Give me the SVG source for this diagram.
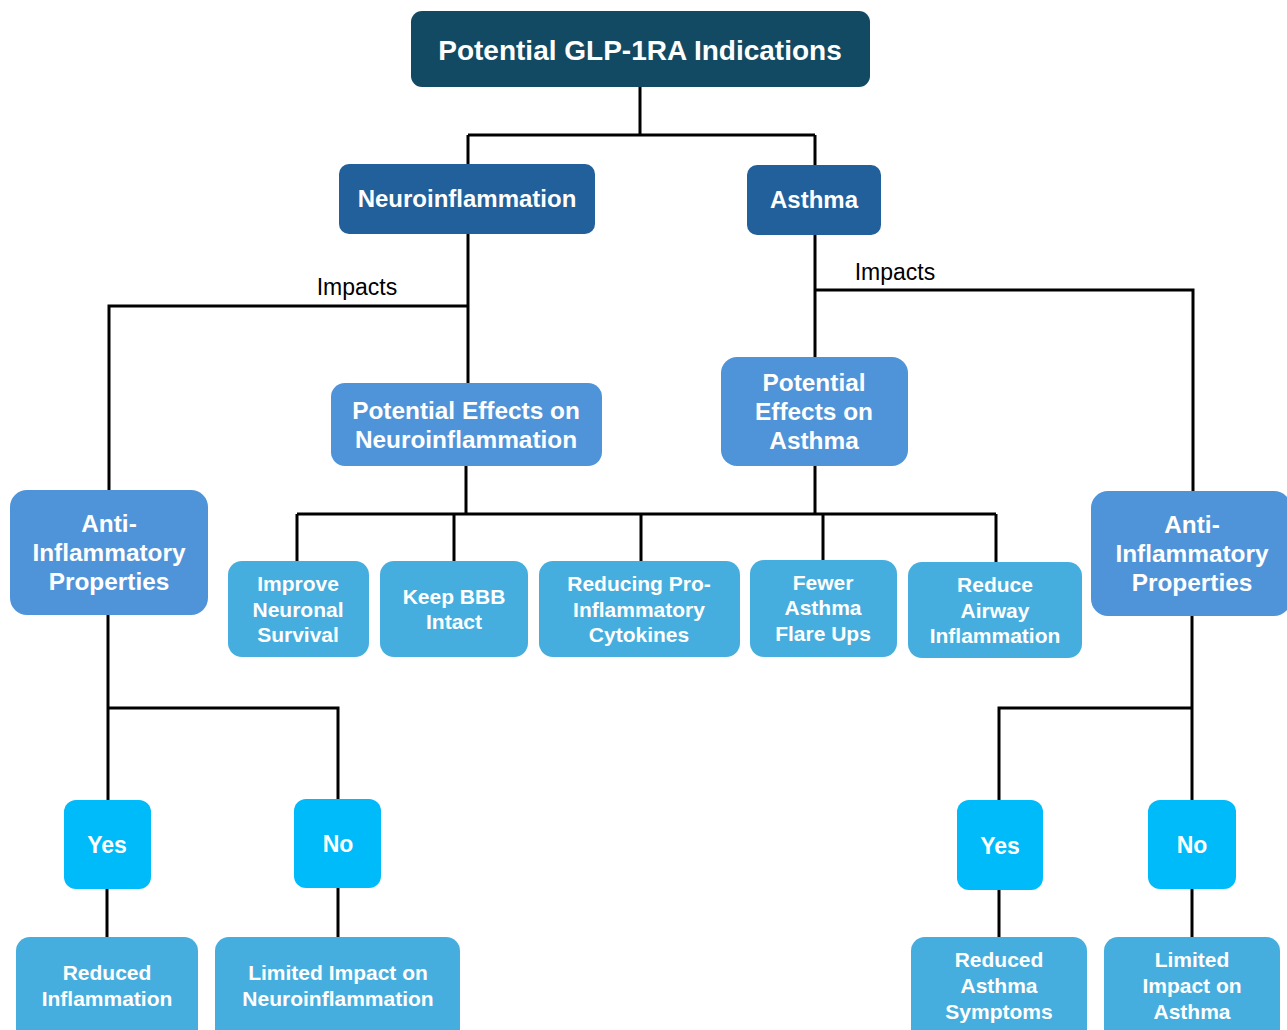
<svg xmlns="http://www.w3.org/2000/svg" width="1287" height="1030" viewBox="0 0 1287 1030">
<style>
.t{font-family:"Liberation Sans",Arial,sans-serif;font-weight:bold;fill:#fff;text-anchor:middle}
.c{fill:none;stroke:#000;stroke-width:3}
.lbl{font-family:"Liberation Sans",Arial,sans-serif;font-size:23px;fill:#000;text-anchor:middle}
.top{fill:#134A63}
.l2{fill:#21609A}
.mid{fill:#4F94D8}
.leaf{fill:#46AEDE}
.yn{fill:#00BBFA}
</style>
<rect width="1287" height="1030" fill="#fff"/>
<g id="connectors">
<path class="c" d="M640 87V135M468 135H815M468 135V164M815 135V165"/>
<path class="c" d="M468 234V383M468 306H109V490"/>
<path class="c" d="M815 235V357M815 290H1193V491"/>
<path class="c" d="M466 466V514M815 466V514M297 514H996M297 514V561M454 514V561M641 514V561M823 514V560M996 514V562"/>
<path class="c" d="M108 615V800M108 708H338V799M107 889V937M338 888V937"/>
<path class="c" d="M1192 616V800M1192 708H999V800M999 890V937M1192 889V937"/>
<text class="lbl" x="357" y="295">Impacts</text>
<text class="lbl" x="895" y="280">Impacts</text>
</g>
<g id="n_top"><rect class="top" x="411" y="11" width="459" height="76" rx="11"/><text class="t" x="640" y="60" font-size="28">Potential GLP-1RA Indications</text></g>
<g id="n_neuro"><rect class="l2" x="339" y="164" width="256" height="70" rx="10"/><text class="t" x="467" y="207" font-size="24">Neuroinflammation</text></g>
<g id="n_asthma"><rect class="l2" x="747" y="165" width="134" height="70" rx="10"/><text class="t" x="814" y="208" font-size="24">Asthma</text></g>
<g id="n_pen"><rect class="mid" x="331" y="383" width="271" height="83" rx="14"/><text class="t" font-size="24.4"><tspan x="466" y="419">Potential Effects on</tspan><tspan x="466" y="448">Neuroinflammation</tspan></text></g>
<g id="n_pea"><rect class="mid" x="721" y="357" width="187" height="109" rx="16"/><text class="t" font-size="24.4"><tspan x="814" y="391">Potential</tspan><tspan x="814" y="420">Effects on</tspan><tspan x="814" y="449">Asthma</tspan></text></g>
<g id="n_antiL"><rect class="mid" x="10" y="490" width="198" height="125" rx="17"/><text class="t" font-size="24.4"><tspan x="109" y="532">Anti-</tspan><tspan x="109" y="561">Inflammatory</tspan><tspan x="109" y="590">Properties</tspan></text></g>
<g id="n_antiR"><rect class="mid" x="1091" y="491" width="200" height="125" rx="17"/><text class="t" font-size="24.4"><tspan x="1192" y="533">Anti-</tspan><tspan x="1192" y="562">Inflammatory</tspan><tspan x="1192" y="591">Properties</tspan></text></g>
<g id="n_ins"><rect class="leaf" x="228" y="561" width="141" height="96" rx="14"/><text class="t" font-size="21"><tspan x="298" y="591">Improve</tspan><tspan x="298" y="617">Neuronal</tspan><tspan x="298" y="642">Survival</tspan></text></g>
<g id="n_bbb"><rect class="leaf" x="380" y="561" width="148" height="96" rx="14"/><text class="t" font-size="21"><tspan x="454" y="604">Keep BBB</tspan><tspan x="454" y="629">Intact</tspan></text></g>
<g id="n_rpc"><rect class="leaf" x="539" y="561" width="201" height="96" rx="14"/><text class="t" font-size="21"><tspan x="639" y="591">Reducing Pro-</tspan><tspan x="639" y="617">Inflammatory</tspan><tspan x="639" y="642">Cytokines</tspan></text></g>
<g id="n_faf"><rect class="leaf" x="750" y="560" width="147" height="97" rx="14"/><text class="t" font-size="21"><tspan x="823" y="590">Fewer</tspan><tspan x="823" y="615">Asthma</tspan><tspan x="823" y="641">Flare Ups</tspan></text></g>
<g id="n_rai"><rect class="leaf" x="908" y="562" width="174" height="96" rx="14"/><text class="t" font-size="21"><tspan x="995" y="592">Reduce</tspan><tspan x="995" y="618">Airway</tspan><tspan x="995" y="643">Inflammation</tspan></text></g>
<g id="n_yesL"><rect class="yn" x="64" y="800" width="87" height="89" rx="12"/><text class="t" x="107" y="853" font-size="23">Yes</text></g>
<g id="n_noL"><rect class="yn" x="294" y="799" width="87" height="89" rx="12"/><text class="t" x="338" y="852" font-size="23">No</text></g>
<g id="n_yesR"><rect class="yn" x="957" y="800" width="86" height="90" rx="12"/><text class="t" x="1000" y="854" font-size="23">Yes</text></g>
<g id="n_noR"><rect class="yn" x="1148" y="800" width="88" height="89" rx="12"/><text class="t" x="1192" y="853" font-size="23">No</text></g>
<g id="n_ri"><rect class="leaf" x="16" y="937" width="182" height="110" rx="14"/><text class="t" font-size="21"><tspan x="107" y="980">Reduced</tspan><tspan x="107" y="1006">Inflammation</tspan></text></g>
<g id="n_lin"><rect class="leaf" x="215" y="937" width="245" height="110" rx="14"/><text class="t" font-size="21"><tspan x="338" y="980">Limited Impact on</tspan><tspan x="338" y="1006">Neuroinflammation</tspan></text></g>
<g id="n_ras"><rect class="leaf" x="911" y="937" width="176" height="110" rx="14"/><text class="t" font-size="21"><tspan x="999" y="967">Reduced</tspan><tspan x="999" y="993">Asthma</tspan><tspan x="999" y="1019">Symptoms</tspan></text></g>
<g id="n_lia"><rect class="leaf" x="1104" y="937" width="176" height="110" rx="14"/><text class="t" font-size="21"><tspan x="1192" y="967">Limited</tspan><tspan x="1192" y="993">Impact on</tspan><tspan x="1192" y="1019">Asthma</tspan></text></g>
</svg>
